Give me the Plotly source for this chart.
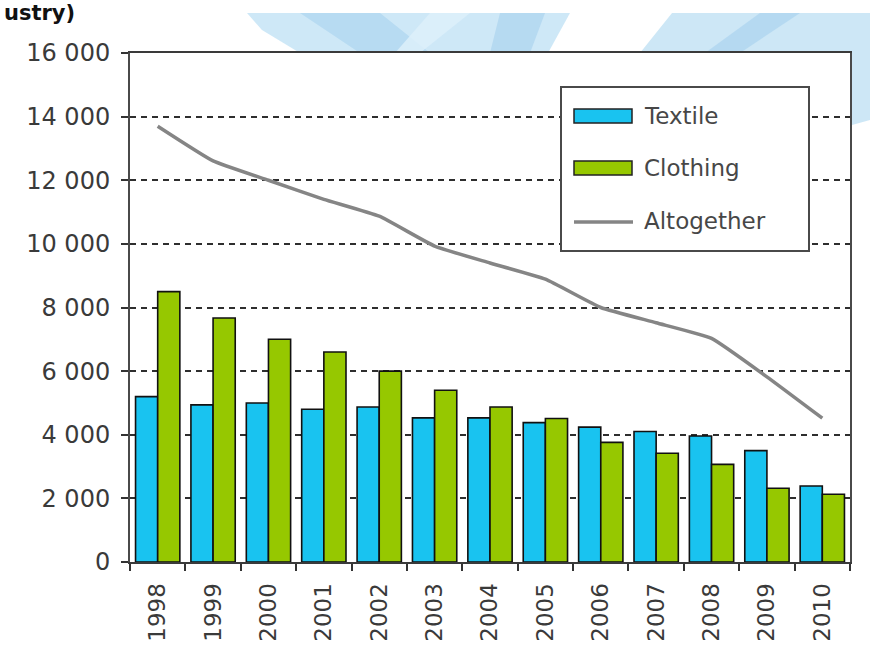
import plotly.graph_objects as go

# Employment in the textile and clothing industry, 1998-2010
years = ["1998", "1999", "2000", "2001", "2002", "2003", "2004",
         "2005", "2006", "2007", "2008", "2009", "2010"]
textile = [5200, 4940, 5000, 4800, 4870, 4530, 4530, 4380, 4240, 4100, 3960, 3500, 2390]
clothing = [8500, 7670, 7000, 6600, 6000, 5400, 4870, 4510, 3760, 3420, 3070, 2320, 2130]
altogether = [13700, 12610, 12000, 11400, 10870, 9930, 9400, 8890, 8000, 7520, 7030, 5820, 4520]

y_ticks = [0, 2000, 4000, 6000, 8000, 10000, 12000, 14000, 16000]

TEXTILE_COLOR = "#19C3F0"
CLOTHING_COLOR = "#96C800"
TOTAL_COLOR = "#858585"
INK = "#3a3a3a"

W, H = 870, 650
L, R, T, B = 130, 850, 53, 562  # plot area in page pixels


def px(x):
    return (x - L) / (R - L)


def py(y):
    return (B - y) / (B - T)


fig = go.Figure()
fig.add_trace(go.Bar(
    x=years, y=textile, name="Textile",
    marker=dict(color=TEXTILE_COLOR, line=dict(color="#111111", width=1.6)),
    showlegend=False,
))
fig.add_trace(go.Bar(
    x=years, y=clothing, name="Clothing",
    marker=dict(color=CLOTHING_COLOR, line=dict(color="#111111", width=1.6)),
    showlegend=False,
))
fig.add_trace(go.Scatter(
    x=years, y=altogether, name="Altogether", mode="lines",
    line=dict(color=TOTAL_COLOR, width=3.5, shape="spline", smoothing=0.4),
    showlegend=False,
))

shapes = []

# soft blue backdrop behind the top of the page
blue_polys = [
    ([(247, 13), (570, 13), (548, 53), (300, 53), (262, 30)], "#C6E4F6"),
    ([(300, 13), (380, 13), (430, 53), (360, 53)], "#B3D8F1"),
    ([(430, 13), (470, 13), (420, 53), (395, 53)], "#DDF0FA"),
    ([(500, 13), (545, 13), (530, 53), (490, 53)], "#B2D7F0"),
    ([(672, 13), (870, 13), (870, 120), (852, 125), (850, 53), (640, 53)], "#C4E3F5"),
    ([(760, 13), (800, 13), (740, 53), (705, 53)], "#B0D6F0"),
]
for pts, col in blue_polys:
    path = "M " + " L ".join(f"{px(x):.4f},{py(y):.4f}" for x, y in pts) + " Z"
    shapes.append(dict(type="path", xref="paper", yref="paper", path=path,
                       fillcolor=col, line=dict(width=0), layer="below", opacity=0.85))

# legend box
shapes.append(dict(type="rect", xref="paper", yref="paper",
                   x0=px(561), x1=px(809), y0=py(251), y1=py(87),
                   fillcolor="white", line=dict(color="#4a4a4a", width=2), layer="above"))
legend_rows = [
    ("Textile", "bar", TEXTILE_COLOR, 116),
    ("Clothing", "bar", CLOTHING_COLOR, 168),
    ("Altogether", "line", TOTAL_COLOR, 221),
]
annotations = []
for label, kind, col, yc in legend_rows:
    if kind == "bar":
        shapes.append(dict(type="rect", xref="paper", yref="paper",
                           x0=px(574), x1=px(632), y0=py(yc + 7), y1=py(yc - 7),
                           fillcolor=col, line=dict(color="#222222", width=1.5), layer="above"))
    else:
        shapes.append(dict(type="line", xref="paper", yref="paper",
                           x0=px(574), x1=px(633), y0=py(yc + 1), y1=py(yc + 1),
                           line=dict(color=col, width=3.5), layer="above"))
    annotations.append(dict(xref="paper", yref="paper", x=px(642), y=py(yc),
                            xanchor="left", yanchor="middle", showarrow=False,
                            text=label, font=dict(family="DejaVu Sans", size=23, color="#474747")))

# title fragment at the top edge
annotations.append(dict(xref="paper", yref="paper", x=px(77), y=py(27),
                        xanchor="right", yanchor="bottom", showarrow=False,
                        text="<b>ustry)</b>",
                        font=dict(family="DejaVu Sans", size=21, color="#111111")))

fig.update_layout(
    width=W, height=H,
    margin=dict(l=L, r=W - R, t=T, b=H - B, pad=0),
    paper_bgcolor="white", plot_bgcolor="white",
    barmode="group", bargap=0.2, bargroupgap=0.0,
    separators=". ",
    shapes=shapes, annotations=annotations,
    showlegend=False,
    font=dict(family="DejaVu Sans", color=INK),
)
fig.update_xaxes(
    type="category", tickangle=-90, automargin=False,
    tickfont=dict(family="DejaVu Sans", size=23, color=INK),
    showline=True, linecolor="#3a3a3a", linewidth=2, mirror=True,
    ticks="outside", tickson="boundaries", ticklen=7, tickwidth=1.5, tickcolor="#333333",
    showgrid=False, ticklabelstandoff=10,
)
fig.update_yaxes(
    range=[0, 16000], tickvals=y_ticks, tickformat=",d", automargin=False,
    tickfont=dict(family="DejaVu Sans", size=24, color=INK),
    showline=True, linecolor="#4a4a4a", linewidth=2, mirror=True,
    ticks="outside", ticklen=7, tickwidth=1.5, tickcolor="#333333",
    showgrid=True, gridcolor="#2e2e2e", gridwidth=1.6, griddash="6px,5px",
    zeroline=False, ticklabelstandoff=6,
)

fig.write_html("out.html")
